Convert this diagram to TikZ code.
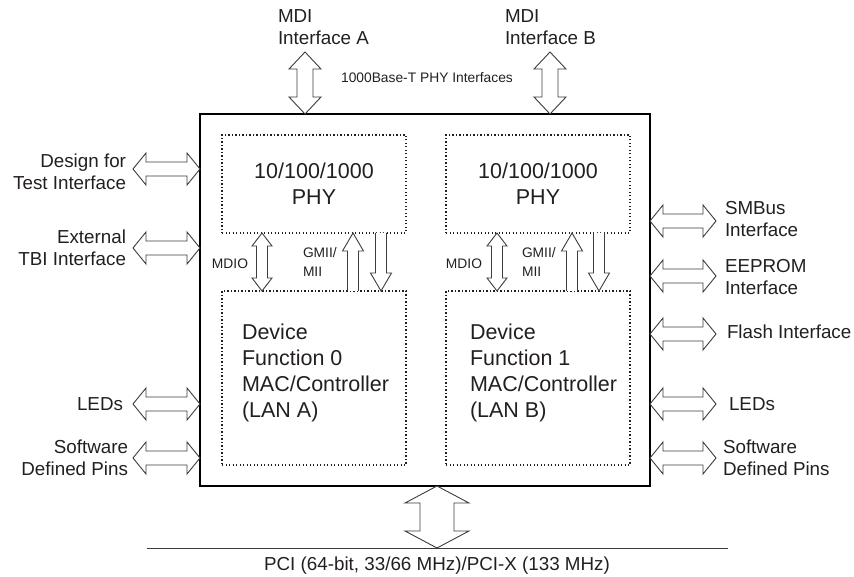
\documentclass[tikz,border=0pt]{standalone}
\usepackage{fontspec}
\setmainfont{Liberation Sans}
\usetikzlibrary{calc}
\definecolor{ink}{RGB}{35,31,32}
\definecolor{edge}{RGB}{60,60,60}
\tikzset{
  blockarrow/.style={draw=edge, fill=white, line width=0.9pt, line join=miter},
  dotbox/.style={draw=ink, line width=1.4pt, dash pattern=on 1.3pt off 2.2pt, inner sep=0pt, outer sep=0pt},
  lbl/.style={font=\fontsize{18.8}{22}\selectfont, text=ink, inner sep=0pt, outer sep=0pt},
  big/.style={font=\fontsize{21.5}{26}\selectfont, text=ink, inner sep=0pt, outer sep=0pt},
  small/.style={font=\fontsize{13.8}{19}\selectfont, text=ink, inner sep=0pt, outer sep=0pt},
}
% vertical double block arrow: top coord, bottom coord, half head, half shaft, head length
\newcommand\vdblarrow[5]{\draw[blockarrow] let \p1=(#1),\p2=(#2) in
  (\x1,\y1) -- (\x1+#3,\y1-#5) -- (\x1+#4,\y1-#5) -- (\x1+#4,\y2+#5) -- (\x1+#3,\y2+#5) -- (\x1,\y2)
  -- (\x1-#3,\y2+#5) -- (\x1-#4,\y2+#5) -- (\x1-#4,\y1-#5) -- (\x1-#3,\y1-#5) -- cycle;}
% horizontal double block arrow: left coord, right coord, half head, half shaft, head length
\newcommand\hdblarrow[5]{\draw[blockarrow] let \p1=(#1),\p2=(#2) in
  (\x1,\y1) -- (\x1+#5,\y1+#3) -- (\x1+#5,\y1+#4) -- (\x2-#5,\y1+#4) -- (\x2-#5,\y1+#3) -- (\x2,\y1)
  -- (\x2-#5,\y1-#3) -- (\x2-#5,\y1-#4) -- (\x1+#5,\y1-#4) -- (\x1+#5,\y1-#3) -- cycle;}
% single up arrow: tip coord (top), base coord (bottom)
\newcommand\uparrowblk[5]{\draw[blockarrow] let \p1=(#1),\p2=(#2) in
  (\x1-#4,\y2) -- (\x1-#4,\y1-#5) -- (\x1-#3,\y1-#5) -- (\x1,\y1) -- (\x1+#3,\y1-#5) -- (\x1+#4,\y1-#5) -- (\x1+#4,\y2);}
% single down arrow: base coord (top), tip coord (bottom)
\newcommand\downarrowblk[5]{\draw[blockarrow] let \p1=(#1),\p2=(#2) in
  (\x1-#4,\y1) -- (\x1-#4,\y2+#5) -- (\x1-#3,\y2+#5) -- (\x1,\y2) -- (\x1+#3,\y2+#5) -- (\x1+#4,\y2+#5) -- (\x1+#4,\y1);}

\begin{document}
\begin{tikzpicture}[x=1pt,y=-1pt]
\useasboundingbox (0,0) rectangle (854,577);

% main chip
\node[draw=black, line width=2.6pt, minimum width=450pt, minimum height=372pt, inner sep=0pt, outer sep=0pt] (chip) at (425,300) {};

% inner boxes
\node[dotbox, big, align=center, minimum width=184pt, minimum height=98pt] (phyA) at (314,184) {10/100/1000\\PHY};
\node[dotbox, big, align=center, minimum width=184pt, minimum height=98pt] (phyB) at (538,184) {10/100/1000\\PHY};
\node[dotbox, minimum width=184pt, minimum height=174pt] (devA) at (314,378) {};
\node[dotbox, minimum width=184pt, minimum height=174pt] (devB) at (538,378) {};
\node[big, align=left, anchor=base west] (devAtext) at (242,417) {Device\\Function 0\\MAC/Controller\\(LAN A)};
\node[big, align=left, anchor=base west] (devBtext) at (470,417) {Device\\Function 1\\MAC/Controller\\(LAN B)};

% top MDI
\node[lbl, align=left, anchor=base west] (mdiAtext) at (278,45) {MDI\\Interface A};
\node[lbl, align=left, anchor=base west] (mdiBtext) at (505,45) {MDI\\Interface B};
\node[small, anchor=base] (phyif) at (427,83) {1000Base-T PHY Interfaces};
\coordinate (mdiA) at (305,52);
\coordinate (mdiB) at (550,52);
\vdblarrow{mdiA}{mdiA |- chip.north}{16pt}{8pt}{17pt}
\vdblarrow{mdiB}{mdiB |- chip.north}{16pt}{8pt}{17pt}

% MDIO / GMII
\node[small] (mdioAt) at (230,264) {MDIO};
\node[small] (mdioBt) at (464,264) {MDIO};
\node[small, align=left, anchor=base west] (gmiiAt) at (303,277) {GMII/\\MII};
\node[small, align=left, anchor=base west] (gmiiBt) at (522,277) {GMII/\\MII};
\coordinate (mdioA) at (262,0);
\coordinate (mdioB) at (497,0);
\coordinate (upA) at (353,0);
\coordinate (upB) at (572,0);
\coordinate (dnA) at (381,0);
\coordinate (dnB) at (599,0);
\vdblarrow{mdioA |- phyA.south}{mdioA |- devA.north}{10pt}{5.5pt}{13pt}
\vdblarrow{mdioB |- phyB.south}{mdioB |- devB.north}{10pt}{5.5pt}{13pt}
\uparrowblk{upA |- phyA.south}{upA |- devA.north}{10.5pt}{5.5pt}{18pt}
\uparrowblk{upB |- phyB.south}{upB |- devB.north}{10.5pt}{5.5pt}{18pt}
\downarrowblk{dnA |- phyA.south}{dnA |- devA.north}{10.5pt}{5.5pt}{18pt}
\downarrowblk{dnB |- phyB.south}{dnB |- devB.north}{10.5pt}{5.5pt}{18pt}

% left side
\node[lbl, align=right, anchor=base east] (dft) at (126,190) {Design for\\Test Interface};
\node[lbl, align=right, anchor=base east] (tbi) at (126,266) {External\\TBI Interface};
\node[lbl, anchor=base east] (ledL) at (123,410) {LEDs};
\node[lbl, align=right, anchor=base east] (swL) at (128,475) {Software\\Defined Pins};
\coordinate (aDft) at (133,169);
\coordinate (aTbi) at (133,248);
\coordinate (aLedL) at (133,404);
\coordinate (aSwL) at (133,458);
\hdblarrow{aDft}{aDft -| chip.west}{16pt}{7pt}{13pt}
\hdblarrow{aTbi}{aTbi -| chip.west}{16pt}{7pt}{13pt}
\hdblarrow{aLedL}{aLedL -| chip.west}{16pt}{7pt}{13pt}
\hdblarrow{aSwL}{aSwL -| chip.west}{16pt}{7pt}{13pt}

% right side
\node[lbl, align=left, anchor=base west] (smb) at (725,237) {SMBus\\Interface};
\node[lbl, align=left, anchor=base west] (eep) at (725,295) {EEPROM\\Interface};
\node[lbl, anchor=base west] (flash) at (727,338) {Flash Interface};
\node[lbl, anchor=base west] (ledR) at (729,410) {LEDs};
\node[lbl, align=left, anchor=base west] (swR) at (723,475) {Software\\Defined Pins};
\coordinate (aSmb) at (716,221);
\coordinate (aEep) at (716,276);
\coordinate (aFlash) at (716,334);
\coordinate (aLedR) at (716,404);
\coordinate (aSwR) at (716,458);
\hdblarrow{aSmb -| chip.east}{aSmb}{16pt}{7pt}{13pt}
\hdblarrow{aEep -| chip.east}{aEep}{16pt}{7pt}{13pt}
\hdblarrow{aFlash -| chip.east}{aFlash}{16pt}{7pt}{13pt}
\hdblarrow{aLedR -| chip.east}{aLedR}{16pt}{7pt}{13pt}
\hdblarrow{aSwR -| chip.east}{aSwR}{16pt}{7pt}{13pt}

% PCI bus
\coordinate (busL) at (147,548);
\coordinate (busR) at (728,548);
\draw[edge, line width=0.9pt] (busL) -- (busR);
\coordinate (pciA) at (437,0);
\vdblarrow{pciA |- chip.south}{pciA |- busL}{32pt}{17pt}{17pt}
\node[lbl, anchor=base] (pcit) at (437,570) {PCI (64-bit, 33/66 MHz)/PCI-X (133 MHz)};
\end{tikzpicture}
\end{document}
